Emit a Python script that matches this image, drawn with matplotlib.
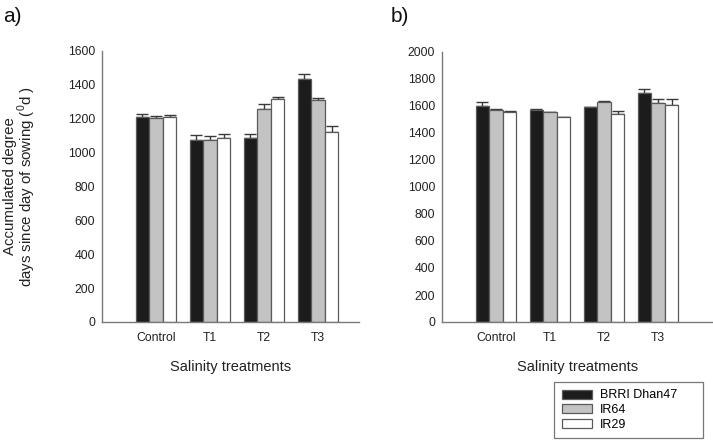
import matplotlib
matplotlib.use("Agg")
import matplotlib.pyplot as plt
import numpy as np

plt.rcParams['font.family'] = ['Liberation Sans', 'DejaVu Sans']
plt.rcParams['mathtext.fontset'] = 'custom'
plt.rcParams['mathtext.rm'] = 'Liberation Sans'

categories = ["Control", "T1", "T2", "T3"]
varieties = ["BRRI Dhan47", "IR64", "IR29"]

# Panel a) values and error tops
a_vals = {
    "BRRI Dhan47": [1211, 1076, 1089, 1433],
    "IR64":        [1207, 1072, 1260, 1311],
    "IR29":        [1213, 1089, 1315, 1123],
}
a_err = {
    "BRRI Dhan47": [16, 29, 22, 29],
    "IR64":        [10, 25, 28, 12],
    "IR29":        [12, 22, 14, 35],
}
# Panel b)
b_vals = {
    "BRRI Dhan47": [1598, 1574, 1594, 1697],
    "IR64":        [1574, 1554, 1628, 1623],
    "IR29":        [1554, 1517, 1544, 1611],
}
b_err = {
    "BRRI Dhan47": [28, 7, 0, 30],
    "IR64":        [5, 2, 10, 32],
    "IR29":        [12, 5, 17, 39],
}
colors = {"BRRI Dhan47": "#1c1c1c", "IR64": "#c3c3c3", "IR29": "#ffffff"}

W, H = 713, 442
fig = plt.figure(figsize=(W/100, H/100), dpi=100)

def frac(x0, x1, ytop, ybot):
    return [x0/W, 1-ybot/H, (x1-x0)/W, (ybot-ytop)/H]

ax1 = fig.add_axes(frac(102, 359, 51, 322))
ax2 = fig.add_axes(frac(442, 713, 52, 322))

bw = 0.253
x = np.arange(1, len(categories)+1)
spine_c = "#7a7a7a"

def draw(ax, vals, errs, ymax, step, xmax):
    for i, v in enumerate(varieties):
        pos = x + (i-1)*bw
        ax.bar(pos, vals[v], width=bw, color=colors[v], edgecolor="#5a5a5a",
               linewidth=0.9, label=v, zorder=2)
        ax.errorbar(pos, vals[v], yerr=[np.zeros(len(x)), errs[v]], fmt='none',
                    ecolor="#3a3a3a", elinewidth=1.0, capsize=4, capthick=1.0, zorder=1)
    ax.set_xlim(0, xmax)
    ax.set_ylim(0, ymax)
    ax.set_yticks(np.arange(0, ymax+1, step))
    ax.set_xticks(x)
    ax.set_xticklabels(categories)
    for s in ['top', 'right']:
        ax.spines[s].set_visible(False)
    for s in ['left', 'bottom']:
        ax.spines[s].set_color(spine_c)
        ax.spines[s].set_linewidth(1.0)
    ax.tick_params(axis='both', length=0, labelsize=8.8, colors="#222222")
    ax.tick_params(axis='y', pad=5)
    ax.tick_params(axis='x', pad=7)
    ax.set_xlabel("Salinity treatments", fontsize=10.5, labelpad=12, color="#222222")

draw(ax1, a_vals, a_err, 1600, 200, 257/54)
draw(ax2, b_vals, b_err, 2000, 200, 271/54)

ax1.set_ylabel("Accumulated degree\ndays since day of sowing ($^{0}$d )",
               fontsize=10.8, color="#222222", linespacing=0.95)
ax1.yaxis.set_label_coords((38-102)/257, 0.5)

fig.text(3/W, 1-17/H, "a)", fontsize=15, va='center', ha='left', color="#111111")
fig.text(391/W, 1-17/H, "b)", fontsize=15, va='center', ha='left', color="#111111")

handles, labels = ax1.get_legend_handles_labels()
leg = fig.legend(handles, labels, loc='upper left',
                 bbox_to_anchor=(554/W, 1-440/H, (703-554)/W, 58/H), mode='expand',
                 fontsize=9, frameon=True, fancybox=False, handlelength=2.4,
                 handleheight=0.7, handletextpad=0.7, borderpad=0.6,
                 labelspacing=0.2, borderaxespad=0)
leg.get_frame().set_edgecolor("#555555")
leg.get_frame().set_linewidth(0.9)

fig.savefig("out.png", dpi=100)
